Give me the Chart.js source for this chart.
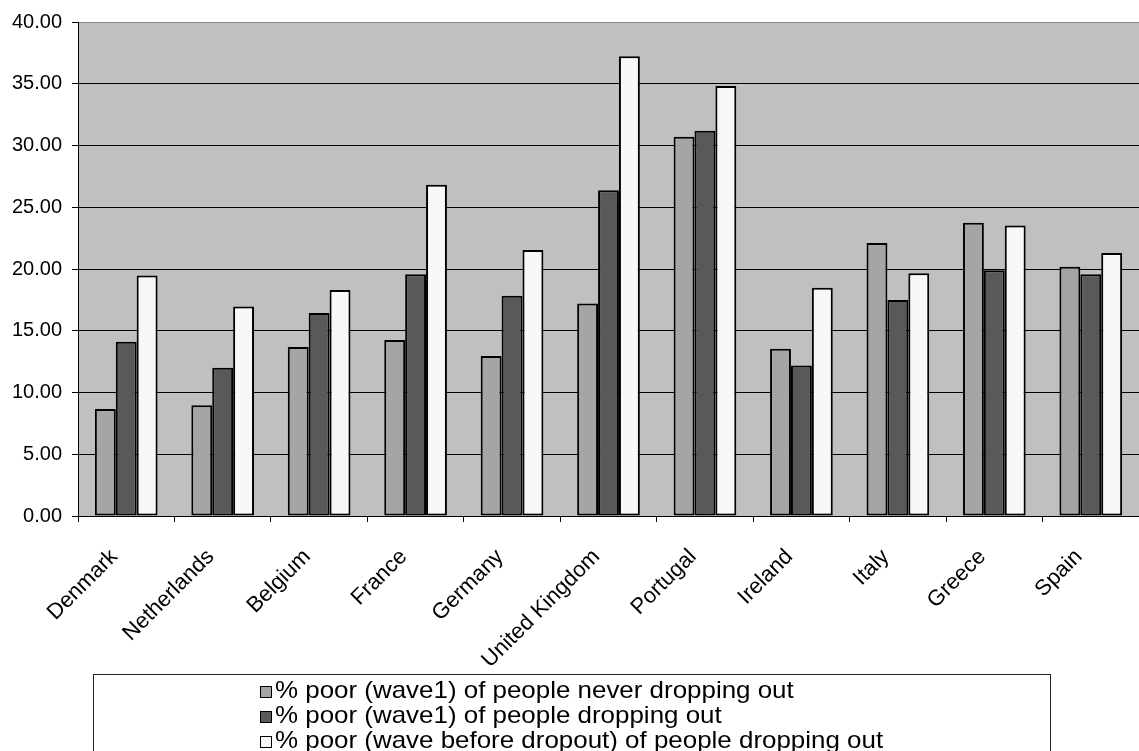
<!DOCTYPE html>
<html>
<head>
<meta charset="utf-8">
<script src="https://cdn.jsdelivr.net/npm/chart.js@4.4.1/dist/chart.umd.min.js"></script>
<style>
  html, body { margin: 0; padding: 0; background: #fff; overflow: hidden; }
  #wrap { position: relative; width: 1139px; height: 751px; }
  #legendBox {
    position: absolute; left: 93px; top: 674px; width: 958px; height: 100px;
    border: 1px solid #222; box-sizing: border-box;
    font-family: Arial, "Liberation Sans", sans-serif; font-size: 24px; color: #000;
  }
  .item { position: absolute; left: 166px; height: 25px; line-height: 25px; white-space: nowrap; }
  .swatch { display: inline-block; width: 10px; height: 10px; border: 1px solid #000; margin-right: 3px; vertical-align: 0px; }
  .txt { display: inline-block; transform: scaleX(1.08); transform-origin: left center; }
</style>
</head>
<body>
<div id="wrap">
  <canvas id="povertyChart" width="1139" height="751"></canvas>
  <div id="legendBox"></div>
</div>
<script>
// data
const countries = ['Denmark', 'Netherlands', 'Belgium', 'France', 'Germany', 'United Kingdom',
                   'Portugal', 'Ireland', 'Italy', 'Greece', 'Spain'];
const neverDropping = [8.67, 8.97, 13.69, 14.26, 12.95, 17.20, 30.70, 13.55, 22.11, 23.75, 20.18];
const droppingWave1 = [14.10, 12.00, 16.44, 19.58, 17.83, 26.37, 31.19, 12.19, 17.50, 19.90, 19.58];
const droppingBefore = [19.47, 16.96, 18.30, 26.83, 21.54, 37.22, 34.82, 18.49, 19.66, 23.53, 21.30];
const seriesNames = ['% poor (wave1) of people never dropping out',
                     '% poor (wave1) of people dropping out',
                     '% poor (wave before dropout) of people dropping out'];
const yTicks = [0, 5, 10, 15, 20, 25, 30, 35, 40];

const fills = ['#A5A5A5', '#595959', '#F8F8F8'];
const family = 'Arial, "Liberation Sans", sans-serif';

// grey plot area like the Excel original
const plotBackground = {
  id: 'plotBackground',
  beforeDraw(chart) {
    const a = chart.chartArea;
    const c = chart.ctx;
    c.save();
    c.fillStyle = '#C0C0C0';
    c.fillRect(a.left, a.top, a.right - a.left, a.bottom - a.top);
    c.restore();
  }
};

const ctx = document.getElementById('povertyChart');
const chart = new Chart(ctx, {
  type: 'bar',
  data: {
    labels: countries,
    datasets: [neverDropping, droppingWave1, droppingBefore].map((d, i) => ({
      label: seriesNames[i],
      data: d,
      backgroundColor: fills[i],
      borderColor: '#000',
      borderWidth: 2,
      borderSkipped: false,
      barPercentage: 1,
      categoryPercentage: 0.65
    }))
  },
  options: {
    responsive: false,
    animation: false,
    events: [],
    layout: { padding: { top: 20, left: 0, right: 0, bottom: 0 } },
    plugins: { legend: { display: false }, tooltip: { enabled: false } },
    scales: {
      x: {
        grid: { offset: true, drawOnChartArea: false, tickLength: 6, color: '#000' },
        border: { color: '#000', width: 1 },
        ticks: {
          color: '#000', font: { family: family, size: 22 },
          minRotation: 45, maxRotation: 45, padding: 22, labelOffset: -12, autoSkip: false
        },
        afterFit(scale) { scale.height = 235; }
      },
      y: {
        min: 0, max: 40,
        afterBuildTicks(scale) { scale.ticks = yTicks.map(v => ({ value: v })); },
        grid: {
          color: c => (c.tick && c.tick.value === 40 ? '#888' : '#000'),
          tickColor: '#000', tickLength: 6, lineWidth: 1
        },
        border: { color: '#000', width: 1 },
        ticks: { color: '#000', font: { family: family, size: 20 }, padding: 10, callback: v => Number(v).toFixed(2) },
        afterFit(scale) { scale.width = 78; }
      }
    }
  },
  plugins: [plotBackground]
});

// legend box, built from the chart's own datasets
const box = document.getElementById('legendBox');
chart.data.datasets.forEach((ds, i) => {
  const row = document.createElement('div');
  row.className = 'item';
  row.style.top = (2 + i * 25) + 'px';
  row.innerHTML = '<span class="swatch" style="background:' + ds.backgroundColor + '"></span>' +
                  '<span class="txt">' + ds.label + '</span>';
  box.appendChild(row);
});
</script>
</body>
</html>
